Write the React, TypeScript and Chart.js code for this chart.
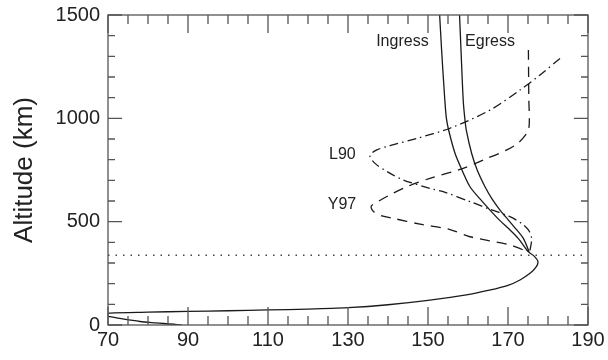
import React, { useEffect, useRef } from "react";
import { Chart, registerables } from "chart.js";

Chart.register(...registerables);

const FONT = '"Liberation Sans", Arial, Helvetica, sans-serif';

// Axis ticks
const xTickValues = [70, 90, 110, 130, 150, 170, 190];
const yTickValues = [0, 500, 1000, 1500];
const xMinorStep = 5;
const yMinorStep = 100;

// Main solid profile (lower branch, turnaround, bulge to the nose and back)
const profileX = [92, 88, 82, 78, 74, 70.5, 68.5, 70.5, 80, 90, 100, 110, 120, 130, 140, 150, 160, 165, 170, 173, 175.5, 177, 177.5, 176.6, 175.2];
const profileY = [-20, 0, 10, 17, 28, 40, 48, 57, 62, 66, 69, 73, 77, 84, 98, 119, 147, 167, 192, 218, 250, 280, 306, 332, 352];

// Ingress (solid)
const ingressX = [175.2, 174.7, 172.5, 170.5, 168, 165.5, 163, 160.5, 158.5, 156.75, 155.2, 154.6, 154.2, 153.4, 152.8];
const ingressY = [352, 363, 420, 460, 505, 556, 610, 669, 750, 831, 940, 1000, 1090, 1331, 1540];

// Egress (solid)
const egressX = [175.2, 175.1, 173.8, 172.2, 170, 168, 166, 164.25, 162.3, 160.9, 159.6, 159.2, 158.8, 158.25, 157.8];
const egressY = [352, 363, 420, 460, 510, 556, 610, 669, 750, 831, 940, 1000, 1089, 1331, 1540];

// Y97 (dashed)
const y97X = [175.1, 175.2, 175.3, 174.7, 172.5, 169.7, 164, 158.8, 150.5, 144.7, 140, 137.5, 135.8, 136.3, 138.5, 141.3, 148, 155.5, 160.5, 170.5, 175.2];
const y97Y = [1331, 1100, 968, 928, 880, 847, 800, 758, 710, 669, 625, 597, 575, 550, 528, 516, 488, 462, 427, 387, 352];

// L90 (dash-dot)
const l90X = [183, 178, 173, 165.5, 155.5, 147.2, 140.5, 137.2, 135.5, 136.75, 140, 143.8, 150.5, 153.8, 160.5, 165.5, 170.5, 173.5, 175.1, 175.9, 175.5, 175.2];
const l90Y = [1290, 1210, 1137, 1040, 952, 903, 868, 847, 820, 782, 740, 702, 661, 645, 597, 560, 524, 490, 460, 420, 363, 352];

// Horizontal dotted reference altitude
const referenceAltitude = 338;
const referenceX = [70, 190];

// Curve annotations
const noteTexts = ["Ingress", "Egress", "L90", "Y97"];
const noteX = [143.6, 165.5, 128.6, 128.5];
const noteY = [1369, 1369, 823, 581];

const toPoints = (xs: number[], ys: number[]) => xs.map((x, i) => ({ x, y: ys[i] }));

const framePlugin = {
  id: "frameTicks",
  afterDatasetsDraw(chart: any) {
    const { ctx, chartArea: a, scales } = chart;
    const x = scales.x;
    const y = scales.y;
    ctx.save();
    ctx.strokeStyle = "#555";
    ctx.lineWidth = 1.3;
    ctx.strokeRect(a.left, a.top, a.right - a.left, a.bottom - a.top);
    ctx.beginPath();
    const x0 = xTickValues[0];
    const x1 = xTickValues[xTickValues.length - 1];
    for (let v = x0; v <= x1; v += xMinorStep) {
      const px = x.getPixelForValue(v);
      const len = xTickValues.includes(v) ? 18 : 9;
      ctx.moveTo(px, a.bottom);
      ctx.lineTo(px, a.bottom - len);
      ctx.moveTo(px, a.top);
      ctx.lineTo(px, a.top + len);
    }
    const y0 = yTickValues[0];
    const y1 = yTickValues[yTickValues.length - 1];
    for (let v = y0; v <= y1; v += yMinorStep) {
      const py = y.getPixelForValue(v);
      const len = yTickValues.includes(v) ? 14 : 7;
      ctx.moveTo(a.left, py);
      ctx.lineTo(a.left + len, py);
      ctx.moveTo(a.right, py);
      ctx.lineTo(a.right - len, py);
    }
    ctx.stroke();

    ctx.fillStyle = "#222";
    ctx.font = `16px ${FONT}`;
    ctx.textAlign = "center";
    ctx.textBaseline = "middle";
    noteTexts.forEach((t, i) => {
      ctx.fillText(t, x.getPixelForValue(noteX[i]), y.getPixelForValue(noteY[i]));
    });
    ctx.restore();
  },
};

export default function App() {
  const ref = useRef<HTMLCanvasElement | null>(null);

  useEffect(() => {
    const canvas = ref.current;
    if (!canvas) return;
    const lineBase = {
      showLine: true,
      pointRadius: 0,
      pointHoverRadius: 0,
      fill: false,
      borderColor: "#1a1a1a",
      borderWidth: 1.3,
      tension: 0.3,
    };
    const chart = new Chart(canvas, {
      type: "scatter",
      data: {
        datasets: [
          { ...lineBase, label: "Profile", data: toPoints(profileX, profileY) },
          { ...lineBase, label: "Ingress", data: toPoints(ingressX, ingressY) },
          { ...lineBase, label: "Egress", data: toPoints(egressX, egressY) },
          { ...lineBase, label: "Y97", data: toPoints(y97X, y97Y), borderDash: [10, 7] },
          { ...lineBase, label: "L90", data: toPoints(l90X, l90Y), borderDash: [9, 4, 1.5, 4] },
          {
            ...lineBase,
            label: "Reference",
            data: referenceX.map((v) => ({ x: v, y: referenceAltitude })),
            borderDash: [1.5, 6],
            borderColor: "#444",
            borderWidth: 1.5,
            tension: 0,
          },
        ],
      },
      options: {
        responsive: false,
        animation: false,
        layout: { padding: { top: 15, right: 20, left: 0, bottom: 0 } },
        plugins: { legend: { display: false }, tooltip: { enabled: false } },
        scales: {
          x: {
            type: "linear",
            min: xTickValues[0],
            max: xTickValues[xTickValues.length - 1],
            afterBuildTicks: (s: any) => {
              s.ticks = xTickValues.map((v) => ({ value: v }));
            },
            afterFit: (s: any) => {
              s.height = 35;
              s.paddingLeft = 0;
              s.paddingRight = 0;
            },
            grid: { display: false, drawTicks: false },
            border: { display: false },
            ticks: {
              color: "#222",
              font: { size: 20, family: FONT },
              padding: 3,
              maxRotation: 0,
              autoSkip: false,
              callback: (v: any) => String(v),
            },
          },
          y: {
            type: "linear",
            min: yTickValues[0],
            max: yTickValues[yTickValues.length - 1],
            afterBuildTicks: (s: any) => {
              s.ticks = yTickValues.map((v) => ({ value: v }));
            },
            afterFit: (s: any) => {
              s.width = 108;
              s.paddingTop = 0;
              s.paddingBottom = 0;
            },
            grid: { display: false, drawTicks: false },
            border: { display: false },
            ticks: {
              color: "#222",
              font: { size: 20, family: FONT },
              padding: 8,
              autoSkip: false,
              callback: (v: any) => String(v),
            },
            title: {
              display: true,
              text: "Altitude (km)",
              color: "#222",
              font: { size: 26, family: FONT },
              padding: { top: 9, bottom: 0 },
            },
          },
        },
      },
      plugins: [framePlugin],
    } as any);
    return () => chart.destroy();
  }, []);

  return (
    <div style={{ position: "fixed", left: 0, top: 0, width: 608, height: 360, background: "#fff" }}>
      <canvas ref={ref} width={608} height={360} style={{ display: "block" }} />
    </div>
  );
}
